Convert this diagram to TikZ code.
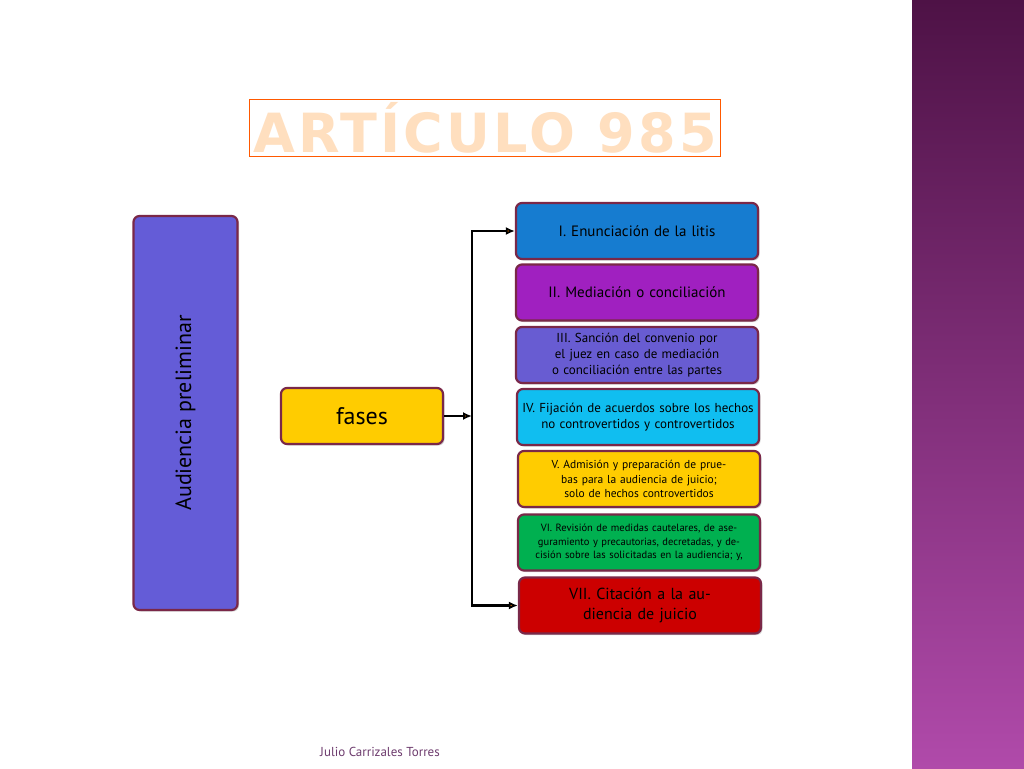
\documentclass[tikz,border=0pt]{standalone}
\usepackage{fontspec}
\setmainfont{PT Sans}
\newfontfamily\titlefont{DejaVu Sans}
\usetikzlibrary{arrows.meta,shadows}
\definecolor{brd}{HTML}{7A2848}
\tikzset{
  bx/.style={draw=brd,line width=2.2pt,rounded corners=6pt,drop shadow={opacity=0.35,shadow xshift=1.5pt,shadow yshift=-1.5pt},align=center,inner sep=2pt},
  rb/.style={bx,minimum width=242pt,minimum height=56pt,text width=232pt},
  conn/.style={line width=2.2pt,-{Latex[length=9pt,width=8pt]}}
}
\begin{document}
\begin{tikzpicture}[x=1pt,y=-1pt]
\useasboundingbox (0,0) rectangle (1024,768);
\fill[white] (0,0) rectangle (1024,768);
\shade[top color={rgb,255:red,78;green,18;blue,70},bottom color={rgb,255:red,176;green,74;blue,170}] (912,0) rectangle (1024,768);
\node[font=\titlefont\bfseries\fontsize{54}{54}\selectfont,text=orange!25,draw=orange!70!red,line width=0pt] (title) at (485,128) {\pgfsetstrokecolor{orange}\addfontfeature{LetterSpace=6}ARTÍCULO 985};
\node[bx,fill={rgb,255:red,100;green,92;blue,215},minimum width=104pt,minimum height=394pt,draw=brd] (aud) at (185.5,413) {};
\node[rotate=90,font=\fontsize{22}{22}\selectfont] (audt) at (185.5,413) {Audiencia preliminar};
\node[bx,fill={rgb,255:red,255;green,204;blue,0},minimum width=162pt,minimum height=56pt,font=\fontsize{24}{24}\selectfont] (fases) at (362,416) {fases};
\node[rb,fill={rgb,255:red,22;green,124;blue,208},font=\fontsize{15}{17}\selectfont] (b1) at (637,231) {I. Enunciación de la litis};
\node[rb,fill={rgb,255:red,160;green,32;blue,192},font=\fontsize{15}{17}\selectfont] (b2) at (637,292.5) {II. Mediación o conciliación};
\node[rb,fill={rgb,255:red,104;green,92;blue,210},font=\fontsize{13}{16}\selectfont] (b3) at (637,355) {III. Sanción del convenio por el juez en caso de mediación o conciliación entre las partes};
\node[rb,fill={rgb,255:red,16;green,190;blue,240},font=\fontsize{13}{16}\selectfont] (b4) at (638,417) {IV. Fijación de acuerdos sobre los hechos no controvertidos y controvertidos};
\node[rb,fill={rgb,255:red,255;green,204;blue,0},font=\fontsize{11.5}{14.5}\selectfont] (b5) at (639,479) {V. Admisión y preparación de pruebas para la audiencia de juicio; solo de hechos controvertidos};
\node[rb,fill={rgb,255:red,0;green,176;blue,80},font=\fontsize{10.5}{13.5}\selectfont] (b6) at (639,542.5) {VI. Revisión de medidas cautelares, de aseguramiento y precautorias, decretadas, y decisión sobre las solicitadas en la audiencia; y,};
\node[rb,fill={rgb,255:red,204;green,0;blue,0},font=\fontsize{16}{20}\selectfont] (b7) at (640,605.5) {VII. Citación a la audiencia de juicio};
\coordinate (j) at (472,416);
\draw[conn] (fases.east) -- (j);
\draw[conn] (472,416) |- (b1.west);
\draw[conn] (472,416) |- (b7.west);
\node[font=\fontsize{13}{13}\selectfont,text={rgb,255:red,110;green,60;blue,110}] (foot) at (380,752) {Julio Carrizales Torres};
\end{tikzpicture}
\end{document}
